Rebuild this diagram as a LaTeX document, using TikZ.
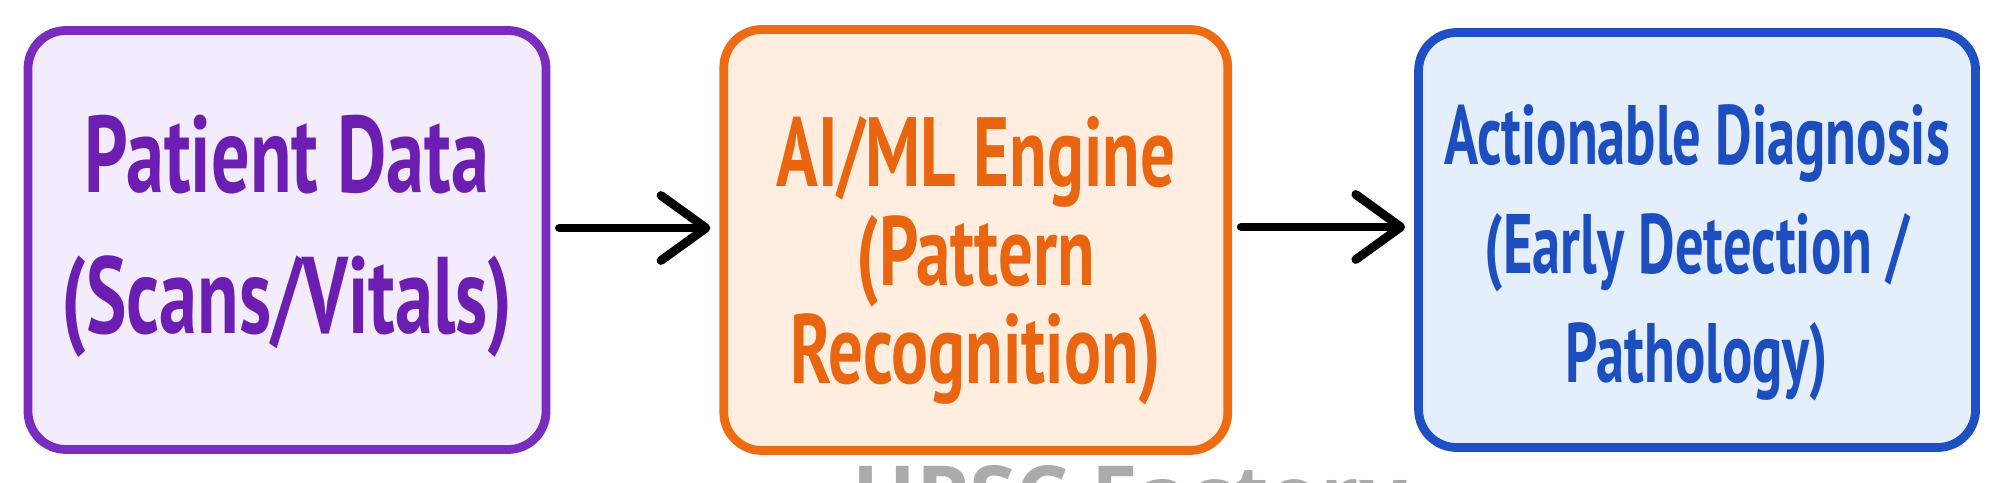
\documentclass[tikz,border=0pt]{standalone}
\usepackage{fontspec}
\newfontfamily\hand[FakeStretch=0.7]{PT Sans}
\newfontfamily\handnarrow[FakeStretch=0.67]{PT Sans}
\newfontfamily\stampfont{Open Sans}
\usepackage{tikz}
\usetikzlibrary{positioning}
\usetikzlibrary{arrows.meta}
\definecolor{dataline}{HTML}{7A2CBF}
\definecolor{datafill}{HTML}{F3ECFC}
\definecolor{datatext}{HTML}{6C1DB2}
\definecolor{engline}{HTML}{EE6B12}
\definecolor{engfill}{HTML}{FFEEDF}
\definecolor{engtext}{HTML}{E9650F}
\definecolor{diagline}{HTML}{1E50C3}
\definecolor{diagfill}{HTML}{E5EFFC}
\definecolor{diagtext}{HTML}{1D4EC0}

\begin{document}
\begin{tikzpicture}
\tikzstyle{box} = [rectangle,draw,rounded corners=0.38cm,line width=2.5pt]
\tikzstyle{words} = [align=center,inner sep=0pt]
\tikzstyle{arrow} = [line width=2.5pt,line cap=round,-{Straight Barb[length=4.5mm,width=6.5mm,round]},shorten <=0.09cm,shorten >=0.09cm]
\tikzstyle{stamp} = [inner sep=0pt,text=black!33,font=\stampfont\bfseries\fontsize{24}{24}\selectfont]
\clip (0,0) rectangle (20.09,4.82);
\node[box,draw=dataline,fill=datafill,minimum width=5.18cm,minimum height=4.19cm] (pd) at (2.87,2.42) {};
\node[box,draw=engline,fill=engfill,minimum width=5.04cm,minimum height=4.21cm,right=1.69cm of pd] (ml) {};
\node[box,draw=diagline,fill=diagfill,minimum width=5.57cm,minimum height=4.15cm,right=1.82cm of ml] (dx) {};
\node[words,text=datatext,font=\hand\bfseries\fontsize{31}{40}\selectfont] (pdtext) at ([yshift=0.04cm]pd.center)
  {Patient Data\\(Scans/Vitals)};
\node[words,text=engtext,font=\hand\bfseries\fontsize{28}{28}\selectfont] (mltext) at ([yshift=-0.21cm]ml.center)
  {AI/ML Engine\\(Pattern\\Recognition)};
\node[words,text=diagtext,font=\handnarrow\bfseries\fontsize{24}{31}\selectfont] (dxtext) at ([yshift=-0.13cm]dx.center)
  {Actionable Diagnosis\\(Early Detection /\\Pathology)};
\draw[arrow] ([yshift=0.12cm]pd.east) -- ([yshift=0.12cm]ml.west);
\draw[arrow] ([yshift=0.13cm]ml.east) -- ([yshift=0.13cm]dx.west);
% watermark, cut by the lower edge
\node[stamp,anchor=north west] (wm) at (8.52,0.17) {UPSC Factory};
\end{tikzpicture}
\end{document}
